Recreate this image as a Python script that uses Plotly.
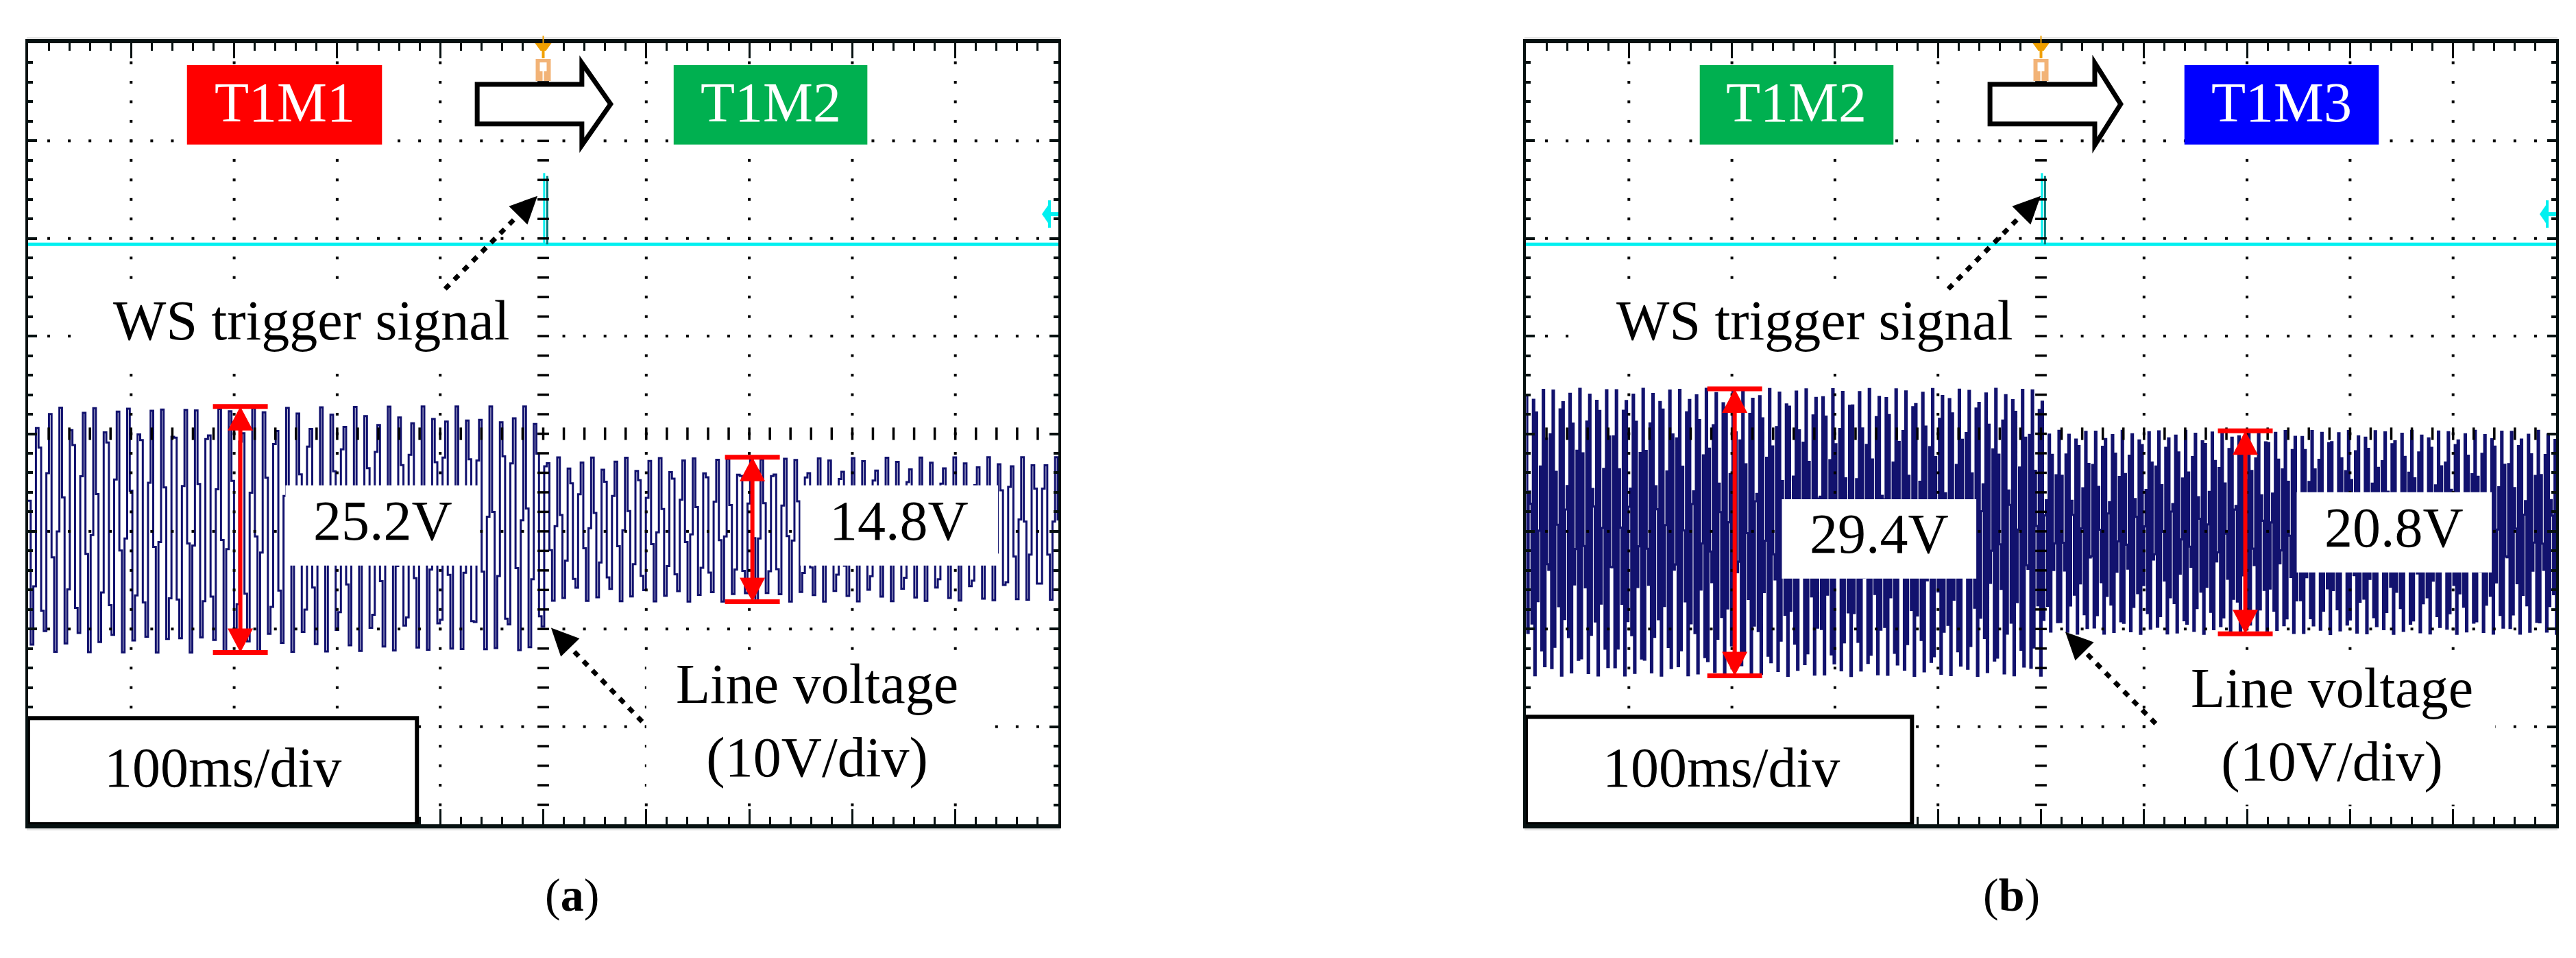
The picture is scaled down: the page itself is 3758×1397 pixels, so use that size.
import numpy as np
import plotly.graph_objects as go

FIG_W, FIG_H = 3758, 1397

# ---------------- values ----------------
panel_tags = ["a", "b"]
mode_before = ["T1M1", "T1M2"]
mode_after = ["T1M2", "T1M3"]
vpp_before = [25.2, 29.4]        # V peak-to-peak before the WS trigger
vpp_after = [14.8, 20.8]         # V peak-to-peak after the WS trigger
trace_offset = [-9.8, -10.1]     # V, screen position of the line-voltage trace
switch_time = [2.5, 2.5]         # ms (from screen centre), mode change instant
ripple_period = [10.98, 3.23]    # ms, period of the displayed oscillation
scope_step = [2.53, 1.364]       # ms, display sample interval of the scope
ws_base = [19.4, 19.4]           # V, WS trigger channel level
ws_pulse_top = [26.4, 26.4]      # V, top of the WS trigger pulse
ws_pulse_time = [2.5, 2.5]       # ms
ws_marker_level = [22.5, 22.5]   # V, channel marker at right edge
time_per_div = 100               # ms/div
volt_per_div = 10                # V/div
n_xdiv, n_ydiv = 10, 8

# ---------------- styling / layout ----------------
MODE_COLORS = {"T1M1": "#FF0000", "T1M2": "#00B050", "T1M3": "#0000FF"}
TRACE_COLOR = "#12126E"
CYAN = "#00F0F0"
TEAL = "#007A7A"
FRAME = "#061010"
FONT = "Liberation Serif, Times New Roman, serif"
trace_width = [3.0, 3.1]
TXT = 82

panel_px_x = [(33, 1536), (2218, 3721)]
panel_px_y = (55, 1194)
X_HALF = time_per_div * n_xdiv / 2
Y_HALF = volt_per_div * n_ydiv / 2
PX_MS = (panel_px_x[0][1] - panel_px_x[0][0]) / (2 * X_HALF)
PX_V = (panel_px_y[1] - panel_px_y[0]) / (2 * Y_HALF)

# decoration positions in data units (ms, V) for each panel
deco = [
    dict(box1=(-345.8, -156.5), box2=(126.6, 314.6), box_y=(29.62, 37.76),
         harrow_x=(-64.1, 37.5, 65.4),
         ws_text=(-224.9, 11.6), ws_bg=(-451.0, -10.0, 7.0, 14.2),
         ws_arrow=((-95.3, 14.83), (-5.6, 24.36)),
         lbl_box=[((-250.2, -61.5), (-13.5, -5.29)), ((249.5, 441.5), (-13.5, -5.29))],
         lbl_dy=0.5,
         red_x=(-294.0, 203.0),
         line_text=(266.1, -29.4), line_bg=(100.0, 438.0, -37.7, -22.9),
         line_arrow=((96.0, -29.48), (7.6, -19.88)),
         div_box=(-122.6, -29.13), div_text=(-311.3, -34.2)),
    dict(box1=(-331.2, -143.2), box2=(139.2, 327.9), box_y=(29.62, 37.76),
         harrow_x=(-49.5, 52.2, 77.4),
         ws_text=(-219.6, 11.6), ws_bg=(-445.0, -10.0, 7.0, 14.2),
         ws_arrow=((-90.0, 14.83), (-0.3, 24.36)),
         lbl_box=[((-251.5, -62.8), (-14.83, -6.70)), ((248.2, 437.5), (-14.2, -5.99))],
         lbl_dy=0.5,
         red_x=(-297.3, 198.3),
         line_text=(282.7, -29.8), line_bg=(113.0, 441.0, -38.0, -23.2),
         line_arrow=((111.3, -29.69), (23.6, -20.29)),
         div_box=(-125.2, -28.99), div_text=(-310.6, -34.2)),
]

fig = go.Figure()
shapes, annots = [], []


def px_to_paper_x(px):
    return px / FIG_W


def px_to_paper_y(py):
    return 1 - py / FIG_H


for i in range(2):
    xr = "x" if i == 0 else "x2"
    yr = "y" if i == 0 else "y2"
    d = deco[i]

    # ---- line voltage trace ----
    t = np.arange(-X_HALF, X_HALF + scope_step[i], scope_step[i])
    amp = np.where(t < switch_time[i], vpp_before[i] / 2, vpp_after[i] / 2)
    v = trace_offset[i] + amp * np.sin(2 * np.pi * t / ripple_period[i])
    fig.add_trace(go.Scatter(x=t, y=v, mode="lines", xaxis=xr, yaxis=yr,
                             line=dict(color=TRACE_COLOR, width=trace_width[i], shape="hv"),
                             hoverinfo="skip"))

    # ---- WS trigger channel ----
    fig.add_trace(go.Scatter(x=[-X_HALF, X_HALF], y=[ws_base[i]] * 2, mode="lines",
                             xaxis=xr, yaxis=yr, line=dict(color=CYAN, width=5), hoverinfo="skip"))
    tp = ws_pulse_time[i]
    fig.add_trace(go.Scatter(x=[tp - 1.6, tp - 1.6], y=[ws_base[i], ws_pulse_top[i] + 0.3],
                             mode="lines", xaxis=xr, yaxis=yr,
                             line=dict(color=CYAN, width=3), hoverinfo="skip"))
    fig.add_trace(go.Scatter(x=[tp + 1.4, tp + 1.4], y=[ws_base[i], ws_pulse_top[i]],
                             mode="lines", xaxis=xr, yaxis=yr,
                             line=dict(color=TEAL, width=3), hoverinfo="skip"))

    # ---- graticule dots ----
    minor_x = np.arange(-X_HALF + time_per_div / 5, X_HALF, time_per_div / 5)
    minor_y = np.arange(-Y_HALF + volt_per_div / 5, Y_HALF, volt_per_div / 5)
    rows = [k * volt_per_div for k in range(-n_ydiv // 2 + 1, n_ydiv // 2) if k != 0]
    cols = [k * time_per_div for k in range(-n_xdiv // 2 + 1, n_xdiv // 2) if k != 0]
    gx, gy = [], []
    for r in rows:
        for xv in minor_x:
            if abs(xv) > 1e-6:
                gx.append(xv); gy.append(r)
    for c in cols:
        for yv in minor_y:
            gx.append(c); gy.append(yv)
    fig.add_trace(go.Scatter(x=gx, y=gy, mode="markers", xaxis=xr, yaxis=yr,
                             marker=dict(symbol="square", size=4, color="black", line=dict(width=0)),
                             hoverinfo="skip"))
    fig.add_trace(go.Scatter(x=[0] * len(minor_y), y=minor_y, mode="markers", xaxis=xr, yaxis=yr,
                             marker=dict(symbol="line-ew", size=12, line=dict(width=3.5, color="black")),
                             hoverinfo="skip"))
    fig.add_trace(go.Scatter(x=minor_x, y=[0] * len(minor_x), mode="markers", xaxis=xr, yaxis=yr,
                             marker=dict(symbol="line-ns", size=13, line=dict(width=3.5, color="black")),
                             hoverinfo="skip"))

    # ---- white text backgrounds ----
    for (x0, x1, y0, y1) in [d["ws_bg"], d["line_bg"]]:
        shapes.append(dict(type="rect", xref=xr, yref=yr, x0=x0, x1=x1, y0=y0, y1=y1,
                           fillcolor="white", line=dict(width=0), layer="above"))

    # ---- mode boxes ----
    for (bx, name) in [(d["box1"], mode_before[i]), (d["box2"], mode_after[i])]:
        shapes.append(dict(type="rect", xref=xr, yref=yr, x0=bx[0], x1=bx[1],
                           y0=d["box_y"][0], y1=d["box_y"][1],
                           fillcolor=MODE_COLORS[name], line=dict(width=0), layer="above"))
        annots.append(dict(x=(bx[0] + bx[1]) / 2, y=(d["box_y"][0] + d["box_y"][1]) / 2 + 0.2,
                           xref=xr, yref=yr, text=name, showarrow=False,
                           font=dict(family=FONT, size=TXT, color="white")))

    # ---- hollow transition arrow ----
    ax0, ax1, axt = d["harrow_x"]
    yb0, yb1, yh0, yh1, ytip = 31.73, 35.79, 29.55, 37.97, 33.76
    path = (f"M {ax0},{yb0} L {ax1},{yb0} L {ax1},{yh0} L {axt},{ytip} "
            f"L {ax1},{yh1} L {ax1},{yb1} L {ax0},{yb1} Z")
    shapes.append(dict(type="path", xref=xr, yref=yr, path=path, fillcolor="white",
                       line=dict(color="black", width=7), layer="above"))

    # ---- value labels ----
    for k, ((bx0, bx1), (by0, by1)) in enumerate(d["lbl_box"]):
        shapes.append(dict(type="rect", xref=xr, yref=yr, x0=bx0, x1=bx1, y0=by0, y1=by1,
                           fillcolor="white", line=dict(width=0), layer="above"))
        val = [vpp_before, vpp_after][k][i]
        annots.append(dict(x=(bx0 + bx1) / 2, y=(by0 + by1) / 2 + d["lbl_dy"], xref=xr, yref=yr,
                           text=f"{val:.1f}V", showarrow=False,
                           font=dict(family=FONT, size=TXT, color="black")))

    # ---- red peak-to-peak arrows ----
    hw, hh = 18.5 / PX_MS, 35 / PX_V
    bar_hw, bar_hh = 40 / PX_MS, 3.5 / PX_V
    for k, xa in enumerate(d["red_x"]):
        vpp = [vpp_before, vpp_after][k][i]
        top = trace_offset[i] + vpp / 2
        bot = trace_offset[i] - vpp / 2
        for yb in (top, bot):
            shapes.append(dict(type="rect", xref=xr, yref=yr, x0=xa - bar_hw, x1=xa + bar_hw,
                               y0=yb - bar_hh, y1=yb + bar_hh, fillcolor="#FF0000",
                               line=dict(width=0), layer="above"))
        shapes.append(dict(type="line", xref=xr, yref=yr, x0=xa, x1=xa, y0=top - hh / 2,
                           y1=bot + hh / 2, line=dict(color="#FF0000", width=6), layer="above"))
        shapes.append(dict(type="path", xref=xr, yref=yr, fillcolor="#FF0000", line=dict(width=0),
                           path=f"M {xa},{top} L {xa - hw},{top - hh} L {xa + hw},{top - hh} Z",
                           layer="above"))
        shapes.append(dict(type="path", xref=xr, yref=yr, fillcolor="#FF0000", line=dict(width=0),
                           path=f"M {xa},{bot} L {xa - hw},{bot + hh} L {xa + hw},{bot + hh} Z",
                           layer="above"))

    # ---- dotted pointer arrows ----
    for (tail, head) in [d["ws_arrow"], d["line_arrow"]]:
        (tx, ty), (hx, hy) = tail, head
        dxp, dyp = (hx - tx) * PX_MS, (hy - ty) * PX_V
        L = np.hypot(dxp, dyp)
        ux, uy = dxp / L, dyp / L
        nx, ny = -uy, ux
        hl, hwid = 40, 19
        sx, sy = hx - ux * (hl - 6) / PX_MS, hy - uy * (hl - 6) / PX_V
        shapes.append(dict(type="line", xref=xr, yref=yr, x0=tx, y0=ty, x1=sx, y1=sy,
                           line=dict(color="black", width=7, dash="9px,10px"), layer="above"))
        bxp, byp = hx - ux * hl / PX_MS, hy - uy * hl / PX_V
        p1 = (bxp + nx * hwid / PX_MS, byp + ny * hwid / PX_V)
        p2 = (bxp - nx * hwid / PX_MS, byp - ny * hwid / PX_V)
        shapes.append(dict(type="path", xref=xr, yref=yr, fillcolor="black", line=dict(width=0),
                           path=f"M {hx},{hy} L {p1[0]},{p1[1]} L {p2[0]},{p2[1]} Z", layer="above"))

    annots.append(dict(x=d["ws_text"][0], y=d["ws_text"][1], xref=xr, yref=yr,
                       text="WS trigger signal", showarrow=False,
                       font=dict(family=FONT, size=TXT, color="black")))
    annots.append(dict(x=d["line_text"][0], y=d["line_text"][1], xref=xr, yref=yr,
                       text=f"Line voltage<br>({volt_per_div}V/div)", showarrow=False, align="center",
                       font=dict(family=FONT, size=TXT, color="black")))

    # ---- time/div box ----
    shapes.append(dict(type="rect", xref=xr, yref=yr, x0=-X_HALF, x1=d["div_box"][0],
                       y0=-Y_HALF, y1=d["div_box"][1], fillcolor="white",
                       line=dict(color="black", width=6), layer="above"))
    annots.append(dict(x=d["div_text"][0], y=d["div_text"][1], xref=xr, yref=yr,
                       text=f"{time_per_div}ms/div", showarrow=False,
                       font=dict(family=FONT, size=TXT, color="black")))

    # ---- cyan channel marker at the right edge ----
    lv = ws_marker_level[i]
    xt, xb, xb2 = X_HALF - 24 / PX_MS, X_HALF - 15 / PX_MS, X_HALF - 11 / PX_MS
    shapes.append(dict(type="path", xref=xr, yref=yr, fillcolor=CYAN, line=dict(width=0),
                       path=f"M {xt},{lv} L {xb},{lv + 13 / PX_V} L {xb},{lv - 13 / PX_V} Z",
                       layer="above"))
    shapes.append(dict(type="rect", xref=xr, yref=yr, x0=xb, x1=xb2, y0=lv - 20 / PX_V,
                       y1=lv + 20 / PX_V, fillcolor=CYAN, line=dict(width=0), layer="above"))
    shapes.append(dict(type="rect", xref=xr, yref=yr, x0=xb2, x1=X_HALF, y0=lv - 3 / PX_V,
                       y1=lv + 3 / PX_V, fillcolor=CYAN, line=dict(width=0), layer="above"))

    # ---- orange trigger-position marker (above the frame, paper coords) ----
    cxp = (panel_px_x[i][0] + panel_px_x[i][1]) / 2
    def prect(x0, x1, y0, y1, col):
        shapes.append(dict(type="rect", xref="paper", yref="paper",
                           x0=px_to_paper_x(cxp + x0), x1=px_to_paper_x(cxp + x1),
                           y0=px_to_paper_y(y1), y1=px_to_paper_y(y0),
                           fillcolor=col, line=dict(width=0), layer="above"))
    prect(-1, 1, 44, 56, "#F0A000")
    shapes.append(dict(type="path", xref="paper", yref="paper", fillcolor="#F0A000",
                       line=dict(width=0), layer="above",
                       path=(f"M {px_to_paper_x(cxp - 12)},{px_to_paper_y(55)} "
                             f"L {px_to_paper_x(cxp + 12)},{px_to_paper_y(55)} "
                             f"L {px_to_paper_x(cxp + 4)},{px_to_paper_y(66)} "
                             f"L {px_to_paper_x(cxp - 4)},{px_to_paper_y(66)} Z")))
    prect(-2, 2, 66, 77, "#F0A000")
    prect(-11, 11, 78, 110, "#F2B377")
    prect(-5, 5, 83, 96, "white")
    prect(-1, 1, 96, 110, "white")

    # ---- faint shadow lines outside the frame ----
    x0p, x1p = px_to_paper_x(panel_px_x[i][0] - 2), px_to_paper_x(panel_px_x[i][1] + 2)
    for (ya, yb) in [(46, 51), (1198, 1203)]:
        shapes.append(dict(type="rect", xref="paper", yref="paper", x0=x0p, x1=x1p,
                           y0=px_to_paper_y(yb), y1=px_to_paper_y(ya),
                           fillcolor="#E6E6E6", line=dict(width=0), layer="below"))

    # ---- panel tag ----
    annots.append(dict(x=px_to_paper_x(cxp), y=px_to_paper_y(1337), xref="paper", yref="paper",
                       text=f"(<b>{panel_tags[i]}</b>)", showarrow=False,
                       font=dict(family=FONT, size=68, color="black")))

    # ---- axes ----
    xdom = [px_to_paper_x(panel_px_x[i][0]), px_to_paper_x(panel_px_x[i][1])]
    ydom = [px_to_paper_y(panel_px_y[1]), px_to_paper_y(panel_px_y[0])]
    xname = "xaxis" if i == 0 else "xaxis2"
    yname = "yaxis" if i == 0 else "yaxis2"
    fig.update_layout(**{
        xname: dict(domain=xdom, range=[-X_HALF, X_HALF], anchor=yr, showgrid=False, zeroline=False,
                    showline=True, linewidth=6, linecolor=FRAME, mirror="allticks",
                    ticks="inside", ticklen=22, tickwidth=3, tickcolor=FRAME,
                    tick0=-X_HALF, dtick=time_per_div, showticklabels=False, fixedrange=True,
                    minor=dict(ticks="inside", dtick=time_per_div / 5, ticklen=11, tickwidth=3,
                               tickcolor=FRAME, showgrid=False)),
        yname: dict(domain=ydom, range=[-Y_HALF, Y_HALF], anchor=xr, showgrid=False, zeroline=False,
                    showline=True, linewidth=4, linecolor=FRAME, mirror="allticks",
                    ticks="inside", ticklen=13, tickwidth=4, tickcolor=FRAME,
                    tick0=-Y_HALF, dtick=volt_per_div, showticklabels=False, fixedrange=True,
                    minor=dict(ticks="inside", dtick=volt_per_div / 5, ticklen=7, tickwidth=4,
                               tickcolor=FRAME, showgrid=False)),
    })

fig.update_layout(width=FIG_W, height=FIG_H, margin=dict(l=0, r=0, t=0, b=0),
                  paper_bgcolor="white", plot_bgcolor="white", showlegend=False,
                  shapes=shapes, annotations=annots)
fig.write_html("out.html")
